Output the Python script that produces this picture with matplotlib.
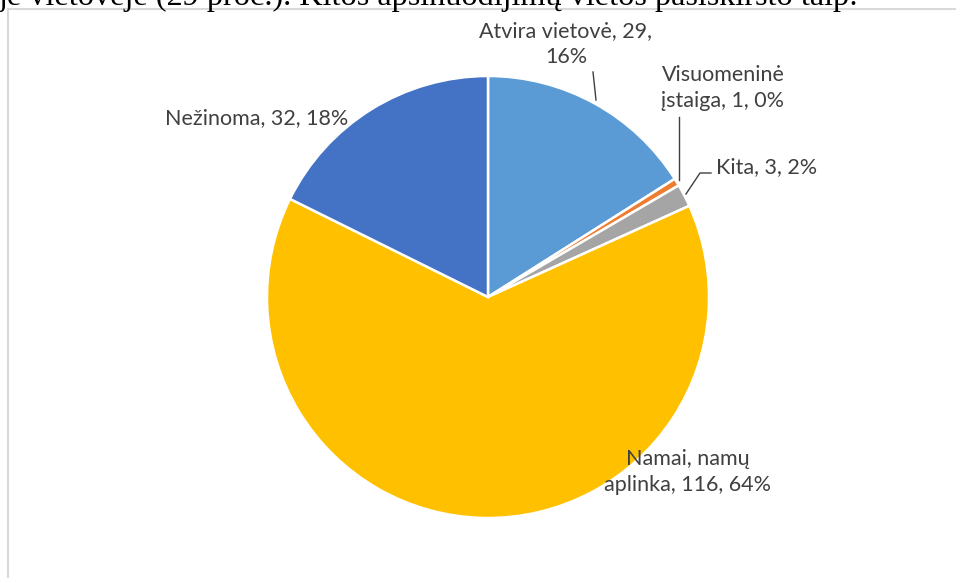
import textwrap
import matplotlib as mpl
import matplotlib.pyplot as plt

mpl.rcParams.update({
    "font.family": ["Lato", "DejaVu Sans"],
})

# data
categories = ["Atvira vietovė", "Visuomeninė įstaiga", "Kita", "Namai, namų aplinka", "Nežinoma"]
counts = [29, 1, 3, 116, 32]
pct_labels = ["16", "0", "2", "64", "18"]
colors = ["#5B9BD5", "#ED7D31", "#A5A5A5", "#FFC000", "#4472C4"]

# layout (pixel coords of a 956x578 canvas, y measured from top)
W, H = 956, 578
center = (488, 297)
radius = 221
label_pos = [(566, 44), (723, 88), (767, 167), (688, 472), (257, 118)]
label_wrap = [19, 14, 40, 17, 40]
leaders = [
    [(593, 72), (596, 100)],
    [(679, 117), (679, 180)],
    [(711, 173), (700, 173), (686, 194)],
]
intro = "je vietovėje (29 proc.). Kitos apsinuodijimų vietos pasiskirsto taip:"

fig = plt.figure(figsize=(W / 100, H / 100), dpi=100)
ax = fig.add_axes([0, 0, 1, 1])
ax.set_xlim(0, W)
ax.set_ylim(0, H)
ax.set_aspect("equal")
ax.axis("off")

# body text from the document, clipped at the top edge
ax.text(-1, H - 5, intro, family=["Liberation Serif"], fontsize=23.2,
        color="black", ha="left", va="baseline")

# chart frame
ax.plot([8, 8, W + 5], [-5, H - 9, H - 9], color="#D9D9D9", lw=1.5,
        solid_joinstyle="miter")

ax.pie(counts, colors=colors, startangle=90, counterclock=False,
       center=(center[0], H - center[1]), radius=radius,
       wedgeprops=dict(edgecolor="white", linewidth=1.8))
ax.set_xlim(0, W)
ax.set_ylim(0, H)

for name, v, p, (x, y), w in zip(categories, counts, pct_labels, label_pos, label_wrap):
    txt = textwrap.fill(f"{name}, {v}, {p}%", w)
    ax.text(x, H - y, txt, ha="center", va="center", fontsize=15.5,
            color="#404040", linespacing=1.35)

for pts in leaders:
    xs = [p[0] for p in pts]
    ys = [H - p[1] for p in pts]
    ax.plot(xs, ys, color="#404040", lw=1)

fig.savefig("out.png", dpi=100)
